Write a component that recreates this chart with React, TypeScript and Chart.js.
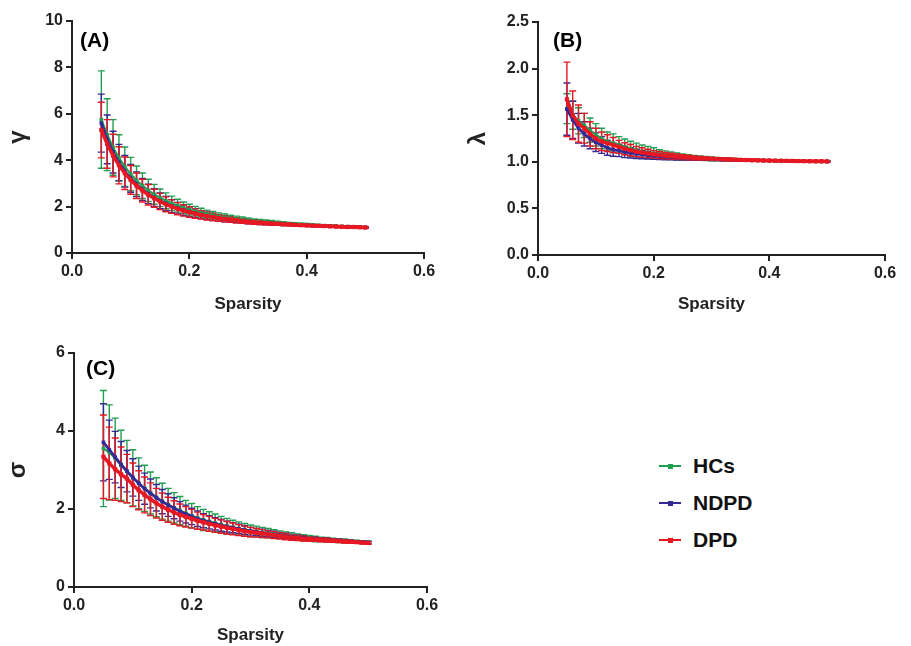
import React, { useEffect, useRef } from 'react';
import { Chart, registerables } from 'chart.js';
Chart.register(...registerables);

const sparsity = [0.05, 0.06, 0.07, 0.08, 0.09, 0.10, 0.11, 0.12, 0.13, 0.14, 0.15, 0.16, 0.17, 0.18, 0.19, 0.20, 0.21, 0.22, 0.23, 0.24, 0.25, 0.26, 0.27, 0.28, 0.29, 0.30, 0.31, 0.32, 0.33, 0.34, 0.35, 0.36, 0.37, 0.38, 0.39, 0.40, 0.41, 0.42, 0.43, 0.44, 0.45, 0.46, 0.47, 0.48, 0.49, 0.50];

const seriesNames = ['HCs', 'NDPD', 'DPD'];

// Panel A: gamma
const gammaHCs = [5.75, 5.1, 4.55, 4.1, 3.72, 3.4, 3.13, 2.9, 2.7, 2.53, 2.38, 2.25, 2.14, 2.04, 1.95, 1.87, 1.8, 1.74, 1.68, 1.63, 1.58, 1.54, 1.5, 1.47, 1.44, 1.41, 1.38, 1.36, 1.34, 1.32, 1.3, 1.28, 1.26, 1.25, 1.23, 1.22, 1.2, 1.19, 1.18, 1.17, 1.16, 1.15, 1.14, 1.13, 1.12, 1.11];
const gammaNDPD = [5.6, 4.9, 4.35, 3.9, 3.52, 3.22, 2.96, 2.74, 2.55, 2.39, 2.25, 2.13, 2.02, 1.93, 1.85, 1.78, 1.71, 1.65, 1.6, 1.55, 1.51, 1.47, 1.44, 1.41, 1.38, 1.35, 1.33, 1.31, 1.29, 1.27, 1.26, 1.24, 1.23, 1.21, 1.2, 1.19, 1.18, 1.17, 1.16, 1.15, 1.14, 1.13, 1.12, 1.12, 1.11, 1.1];
const gammaDPD = [5.3, 4.7, 4.2, 3.78, 3.44, 3.15, 2.9, 2.69, 2.51, 2.36, 2.22, 2.1, 2.0, 1.91, 1.83, 1.76, 1.7, 1.64, 1.59, 1.55, 1.51, 1.47, 1.44, 1.41, 1.38, 1.35, 1.33, 1.31, 1.29, 1.27, 1.26, 1.24, 1.23, 1.21, 1.2, 1.19, 1.18, 1.17, 1.16, 1.15, 1.14, 1.13, 1.12, 1.12, 1.11, 1.1];
const gammaHCsSD = [2.1, 1.55, 1.2, 1.0, 0.85, 0.72, 0.62, 0.55, 0.48, 0.43, 0.38, 0.34, 0.31, 0.28, 0.25, 0.23, 0.21, 0.19, 0.17, 0.16, 0.15, 0.14, 0.13, 0.12, 0.11, 0.1, 0.09, 0.09, 0.08, 0.08, 0.07, 0.07, 0.06, 0.06, 0.05, 0.05, 0.05, 0.04, 0.04, 0.04, 0.03, 0.03, 0.03, 0.03, 0.03, 0.02];
const gammaNDPDSD = [1.25, 1.05, 0.9, 0.78, 0.68, 0.6, 0.53, 0.47, 0.42, 0.38, 0.34, 0.31, 0.28, 0.25, 0.23, 0.21, 0.19, 0.17, 0.16, 0.15, 0.14, 0.13, 0.12, 0.11, 0.1, 0.09, 0.08, 0.08, 0.07, 0.07, 0.06, 0.06, 0.05, 0.05, 0.05, 0.04, 0.04, 0.04, 0.03, 0.03, 0.03, 0.03, 0.02, 0.02, 0.02, 0.02];
const gammaDPDSD = [1.2, 1.05, 0.92, 0.8, 0.7, 0.62, 0.55, 0.49, 0.44, 0.39, 0.35, 0.32, 0.29, 0.26, 0.24, 0.22, 0.2, 0.18, 0.17, 0.15, 0.14, 0.13, 0.12, 0.11, 0.1, 0.09, 0.09, 0.08, 0.07, 0.07, 0.06, 0.06, 0.05, 0.05, 0.05, 0.04, 0.04, 0.04, 0.03, 0.03, 0.03, 0.03, 0.02, 0.02, 0.02, 0.02];

// Panel B: lambda
const lambdaHCs = [1.57, 1.5, 1.44, 1.39, 1.34, 1.29, 1.25, 1.22, 1.2, 1.18, 1.16, 1.14, 1.125, 1.11, 1.1, 1.09, 1.08, 1.072, 1.065, 1.058, 1.052, 1.047, 1.043, 1.039, 1.035, 1.032, 1.029, 1.027, 1.025, 1.023, 1.021, 1.019, 1.017, 1.016, 1.014, 1.013, 1.012, 1.011, 1.01, 1.009, 1.008, 1.007, 1.006, 1.005, 1.005, 1.004];
const lambdaNDPD = [1.565, 1.45, 1.36, 1.3, 1.25, 1.21, 1.18, 1.15, 1.13, 1.12, 1.105, 1.095, 1.085, 1.077, 1.07, 1.064, 1.058, 1.053, 1.049, 1.045, 1.042, 1.039, 1.036, 1.033, 1.031, 1.029, 1.027, 1.025, 1.023, 1.021, 1.019, 1.018, 1.016, 1.015, 1.014, 1.013, 1.012, 1.011, 1.01, 1.009, 1.008, 1.007, 1.006, 1.005, 1.005, 1.004];
const lambdaDPD = [1.67, 1.5, 1.41, 1.36, 1.3, 1.25, 1.22, 1.2, 1.18, 1.16, 1.14, 1.125, 1.11, 1.1, 1.09, 1.08, 1.073, 1.066, 1.06, 1.055, 1.05, 1.046, 1.042, 1.038, 1.035, 1.032, 1.03, 1.027, 1.025, 1.023, 1.021, 1.019, 1.017, 1.016, 1.014, 1.013, 1.012, 1.011, 1.01, 1.009, 1.008, 1.007, 1.006, 1.005, 1.005, 1.004];
const lambdaHCsSD = [0.16, 0.15, 0.14, 0.13, 0.13, 0.12, 0.11, 0.1, 0.1, 0.09, 0.085, 0.08, 0.075, 0.07, 0.065, 0.06, 0.05, 0.045, 0.04, 0.036, 0.032, 0.029, 0.026, 0.024, 0.022, 0.02, 0.018, 0.016, 0.015, 0.014, 0.013, 0.012, 0.011, 0.01, 0.009, 0.008, 0.008, 0.007, 0.007, 0.006, 0.006, 0.005, 0.005, 0.005, 0.004, 0.004];
const lambdaNDPDSD = [0.28, 0.2, 0.16, 0.13, 0.11, 0.1, 0.09, 0.08, 0.07, 0.065, 0.06, 0.055, 0.05, 0.045, 0.04, 0.037, 0.034, 0.031, 0.028, 0.026, 0.024, 0.022, 0.02, 0.018, 0.016, 0.015, 0.014, 0.013, 0.012, 0.011, 0.01, 0.009, 0.008, 0.008, 0.007, 0.007, 0.006, 0.006, 0.005, 0.005, 0.005, 0.004, 0.004, 0.004, 0.003, 0.003];
const lambdaDPDSD = [0.4, 0.26, 0.2, 0.16, 0.13, 0.11, 0.1, 0.09, 0.08, 0.07, 0.065, 0.06, 0.055, 0.05, 0.045, 0.04, 0.037, 0.034, 0.031, 0.028, 0.026, 0.024, 0.022, 0.02, 0.018, 0.016, 0.015, 0.014, 0.013, 0.012, 0.011, 0.01, 0.009, 0.008, 0.008, 0.007, 0.007, 0.006, 0.006, 0.005, 0.005, 0.005, 0.004, 0.004, 0.004, 0.003];

// Panel C: sigma
const sigmaHCs = [3.55, 3.45, 3.3, 3.12, 2.96, 2.8, 2.66, 2.53, 2.41, 2.3, 2.2, 2.11, 2.03, 1.96, 1.89, 1.83, 1.77, 1.72, 1.68, 1.64, 1.6, 1.56, 1.53, 1.5, 1.47, 1.44, 1.42, 1.4, 1.38, 1.36, 1.34, 1.32, 1.3, 1.28, 1.26, 1.25, 1.23, 1.22, 1.21, 1.2, 1.19, 1.18, 1.17, 1.16, 1.15, 1.14];
const sigmaNDPD = [3.71, 3.52, 3.33, 3.14, 2.97, 2.81, 2.66, 2.52, 2.4, 2.29, 2.19, 2.1, 2.02, 1.94, 1.87, 1.81, 1.75, 1.7, 1.66, 1.62, 1.58, 1.55, 1.52, 1.49, 1.46, 1.43, 1.41, 1.39, 1.37, 1.35, 1.33, 1.31, 1.29, 1.27, 1.26, 1.24, 1.23, 1.22, 1.21, 1.2, 1.19, 1.18, 1.17, 1.16, 1.15, 1.14];
const sigmaDPD = [3.34, 3.17, 3.02, 2.89, 2.78, 2.62, 2.48, 2.36, 2.25, 2.15, 2.06, 1.98, 1.91, 1.85, 1.8, 1.75, 1.7, 1.66, 1.62, 1.58, 1.55, 1.52, 1.49, 1.46, 1.43, 1.41, 1.39, 1.37, 1.35, 1.33, 1.31, 1.29, 1.27, 1.26, 1.24, 1.23, 1.22, 1.21, 1.2, 1.19, 1.18, 1.17, 1.16, 1.15, 1.14, 1.13];
const sigmaHCsSD = [1.49, 1.22, 1.03, 0.9, 0.8, 0.72, 0.65, 0.59, 0.54, 0.5, 0.46, 0.42, 0.39, 0.36, 0.33, 0.31, 0.29, 0.27, 0.25, 0.23, 0.21, 0.2, 0.18, 0.17, 0.16, 0.15, 0.14, 0.13, 0.12, 0.11, 0.1, 0.09, 0.09, 0.08, 0.08, 0.07, 0.07, 0.06, 0.06, 0.05, 0.05, 0.05, 0.04, 0.04, 0.04, 0.04];
const sigmaNDPDSD = [0.99, 0.76, 0.66, 0.59, 0.53, 0.48, 0.44, 0.4, 0.37, 0.34, 0.31, 0.29, 0.27, 0.25, 0.23, 0.21, 0.2, 0.18, 0.17, 0.16, 0.15, 0.14, 0.13, 0.12, 0.11, 0.1, 0.09, 0.09, 0.08, 0.08, 0.07, 0.07, 0.06, 0.06, 0.05, 0.05, 0.05, 0.04, 0.04, 0.04, 0.04, 0.03, 0.03, 0.03, 0.03, 0.03];
const sigmaDPDSD = [1.07, 0.93, 0.8, 0.7, 0.62, 0.56, 0.5, 0.46, 0.42, 0.38, 0.35, 0.32, 0.3, 0.28, 0.26, 0.24, 0.22, 0.2, 0.19, 0.18, 0.17, 0.16, 0.15, 0.14, 0.13, 0.12, 0.11, 0.1, 0.09, 0.09, 0.08, 0.08, 0.07, 0.07, 0.06, 0.06, 0.05, 0.05, 0.05, 0.04, 0.04, 0.04, 0.04, 0.03, 0.03, 0.03];

const xTicks = [0, 0.2, 0.4, 0.6];

const COLORS = ['rgb(34,158,80)', 'rgb(52,42,150)', 'rgb(232,24,34)'];
const LINE_W = [2.2, 2.8, 3.5];
const FONT = '"Liberation Sans", Arial, Helvetica, sans-serif';

const errorBarPlugin = {
  id: 'errorBars',
  beforeDatasetsDraw(chart: any) {
    const ctx = chart.ctx;
    const yScale = chart.scales.y;
    chart.data.datasets.forEach((ds: any, i: number) => {
      const meta = chart.getDatasetMeta(i);
      const errs: number[] = ds.errors || [];
      ctx.save();
      ctx.strokeStyle = ds.borderColor;
      ctx.lineWidth = 1.4;
      meta.data.forEach((el: any, j: number) => {
        const v = ds.data[j].y;
        const e = errs[j] || 0;
        const yTop = yScale.getPixelForValue(v + e);
        const yBot = yScale.getPixelForValue(v - e);
        const x = el.x;
        const cw = 3.5;
        ctx.beginPath();
        ctx.moveTo(x, yTop);
        ctx.lineTo(x, yBot);
        ctx.moveTo(x - cw, yTop);
        ctx.lineTo(x + cw, yTop);
        ctx.moveTo(x - cw, yBot);
        ctx.lineTo(x + cw, yBot);
        ctx.stroke();
      });
      ctx.restore();
    });
  },
};

const panelLabelPlugin = {
  id: 'panelLabel',
  afterDraw(chart: any, _args: any, opts: any) {
    const ctx = chart.ctx;
    ctx.save();
    ctx.font = `bold 21px ${FONT}`;
    ctx.fillStyle = '#000';
    ctx.textAlign = 'left';
    ctx.textBaseline = 'alphabetic';
    ctx.fillText(opts.text, chart.chartArea.left + opts.dx, chart.chartArea.top + opts.dy);
    ctx.restore();
  },
};

type PanelProps = {
  left: number; top: number; width: number; height: number;
  yAxisWidth: number; xAxisHeight: number; padTop: number; padRight: number;
  yMax: number; yStep: number; yDecimals: number; yTitle: string;
  label: string; labelDx: number; labelDy: number; titleBottomPad: number;
  means: number[][]; sds: number[][];
};

function Panel(p: PanelProps) {
  const ref = useRef<HTMLCanvasElement>(null);
  useEffect(() => {
    if (!ref.current) return;
    const datasets = seriesNames.map((name, si) => ({
      label: name,
      data: sparsity.map((s, j) => ({ x: s, y: p.means[si][j] })),
      errors: p.sds[si],
      borderColor: COLORS[si],
      backgroundColor: COLORS[si],
      borderWidth: LINE_W[si],
      pointStyle: 'rect',
      pointRadius: si === 2 ? 3 : 2.6,
      pointBorderWidth: 0,
      pointBackgroundColor: COLORS[si],
      tension: 0,
      order: 3 - si,
    }));
    const xTickFont = { family: FONT, size: 16, weight: 'bold' as const };
    const yTickFont = { family: FONT, size: 16, weight: 'bold' as const };
    const chart = new Chart(ref.current, {
      type: 'line',
      data: { datasets: datasets as any },
      options: {
        animation: false,
        responsive: false,
        maintainAspectRatio: false,
        layout: { padding: { top: p.padTop, right: p.padRight, left: 0, bottom: 0 } },
        plugins: {
          legend: { display: false },
          tooltip: { enabled: false },
          panelLabel: { text: p.label, dx: p.labelDx, dy: p.labelDy },
        } as any,
        scales: {
          x: {
            type: 'linear',
            min: 0,
            max: 0.6,
            afterBuildTicks: (scale: any) => {
              scale.ticks = xTicks.map((v) => ({ value: v }));
            },
            afterFit: (scale: any) => { scale.height = p.xAxisHeight; },
            ticks: {
              color: '#222',
              font: xTickFont,
              padding: 3,
              maxRotation: 0,
              callback: (v: any) => Number(v).toFixed(1),
            },
            grid: { drawOnChartArea: false, drawTicks: true, tickLength: 6, color: '#222', lineWidth: 2 },
            border: { display: true, color: '#222', width: 2 },
            title: {
              display: true,
              text: 'Sparsity',
              color: '#222',
              font: { family: FONT, size: 17, weight: 'bold' },
              padding: { top: 0, bottom: p.titleBottomPad },
            },
          },
          y: {
            type: 'linear',
            min: 0,
            max: p.yMax,
            afterBuildTicks: (scale: any) => {
              const t: any[] = [];
              for (let k = 0; k * p.yStep <= p.yMax + 1e-9; k++) t.push({ value: +(k * p.yStep).toFixed(3) });
              scale.ticks = t;
            },
            afterFit: (scale: any) => { scale.width = p.yAxisWidth; },
            ticks: {
              color: '#222',
              font: yTickFont,
              padding: 3,
              callback: (v: any) => Number(v).toFixed(p.yDecimals),
            },
            grid: { drawOnChartArea: false, drawTicks: true, tickLength: 6, color: '#222', lineWidth: 2 },
            border: { display: true, color: '#222', width: 2 },
            title: {
              display: true,
              text: p.yTitle,
              color: '#222',
              font: { family: FONT, size: 24, weight: 'bold' },
              padding: { top: 4, bottom: 0 },
            },
          },
        },
      },
      plugins: [errorBarPlugin, panelLabelPlugin],
    });
    return () => chart.destroy();
  }, []);
  return (
    <canvas
      ref={ref}
      width={p.width}
      height={p.height}
      style={{ position: 'absolute', left: p.left, top: p.top, width: p.width, height: p.height, display: 'block' }}
    />
  );
}

function Legend() {
  const rows = seriesNames.map((n, i) => (
    <div key={n} style={{ position: 'absolute', left: 0, top: i * 37, height: 26, display: 'flex', alignItems: 'center' }}>
      <div style={{ position: 'relative', width: 22, height: 2, background: COLORS[i] }}>
        <div style={{ position: 'absolute', left: 9, top: -1.5, width: 5, height: 5, background: COLORS[i] }} />
      </div>
      <span style={{ marginLeft: 12, fontFamily: FONT, fontWeight: 'bold', fontSize: 21, color: '#111', lineHeight: '26px' }}>{n}</span>
    </div>
  ));
  return <div style={{ position: 'absolute', left: 659, top: 453, width: 200, height: 120 }}>{rows}</div>;
}

export default function App() {
  return (
    <div style={{ position: 'absolute', left: 0, top: 0, width: 911, height: 646, background: '#fff', overflow: 'hidden' }}>
      <Panel left={0} top={0} width={450} height={320} yAxisWidth={72} xAxisHeight={67} padTop={21} padRight={26}
        yMax={10} yStep={2} yDecimals={0} yTitle="γ" label="(A)" labelDx={8} labelDy={26} titleBottomPad={5}
        means={[gammaHCs, gammaNDPD, gammaDPD]} sds={[gammaHCsSD, gammaNDPDSD, gammaDPDSD]} />
      <Panel left={460} top={0} width={450} height={320} yAxisWidth={78} xAxisHeight={65} padTop={22} padRight={25}
        yMax={2.5} yStep={0.5} yDecimals={1} yTitle="λ" label="(B)" labelDx={15} labelDy={25} titleBottomPad={5}
        means={[lambdaHCs, lambdaNDPD, lambdaDPD]} sds={[lambdaHCsSD, lambdaNDPDSD, lambdaDPDSD]} />
      <Panel left={0} top={330} width={450} height={316} yAxisWidth={74} xAxisHeight={59} padTop={23} padRight={23}
        yMax={6} yStep={2} yDecimals={0} yTitle="σ" label="(C)" labelDx={12} labelDy={22} titleBottomPad={0}
        means={[sigmaHCs, sigmaNDPD, sigmaDPD]} sds={[sigmaHCsSD, sigmaNDPDSD, sigmaDPDSD]} />
      <Legend />
    </div>
  );
}
